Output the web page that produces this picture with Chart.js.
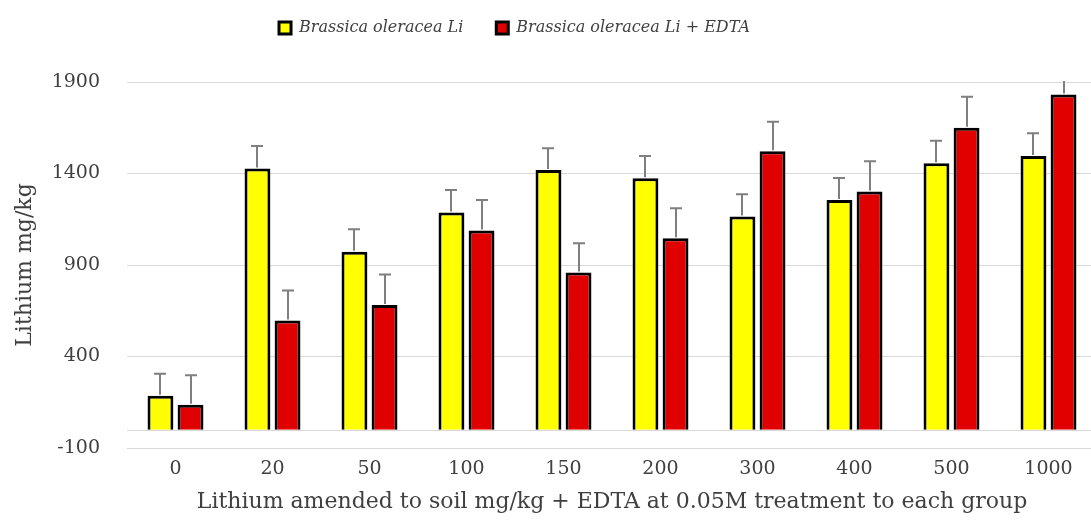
<!DOCTYPE html>
<html>
<head>
<meta charset="utf-8">
<script src="https://cdn.jsdelivr.net/npm/chart.js@4"></script>
<style>
  html, body { margin: 0; padding: 0; background: #ffffff; overflow: hidden; }
  #wrap { width: 1100px; height: 521px; }
</style>
</head>
<body>
<div id="wrap"><canvas id="chart" width="1100" height="521"></canvas></div>
<script>
const categories = ["0", "20", "50", "100", "150", "200", "300", "400", "500", "1000"];
const plainLi = [186, 1428, 973, 1187, 1419, 1374, 1165, 1255, 1456, 1496];
const plainLiError = [120, 122, 122, 123, 119, 122, 121, 121, 123, 124];
const edtaLi = [136, 597, 682, 1088, 859, 1046, 1522, 1301, 1650, 1832];
const edtaLiError = [162, 163, 166, 167, 160, 164, 161, 166, 169, 165];
const yTicks = [-100, 400, 900, 1400, 1900];

const palette = {
  yellow: "#ffff00",
  red: "#e00000",
  edge: "#000000",
  whisker: "#7f7f7f",
  grid: "#d9d9d9",
  text: "#404040"
};

const serif = "'DejaVu Serif', serif";

// error whiskers on top of each bar, plus the zero line the bars stand on
const extrasPlugin = {
  id: "extras",
  beforeInit(chart) {
    const fit = chart.legend.fit;
    chart.legend.fit = function () {
      fit.call(this);
      this.height += 36;
    };
  },
  afterLayout(chart) {
    // legend sits a little left of the canvas centre
    chart.legend.left -= 34;
    chart.legend.right -= 34;
  },
  beforeDatasetsDraw(chart) {
    const { ctx, chartArea, scales } = chart;
    const y0 = Math.round(scales.y.getPixelForValue(0)) + 0.5;
    ctx.save();
    ctx.strokeStyle = palette.grid;
    ctx.lineWidth = 1;
    ctx.beginPath();
    ctx.moveTo(chartArea.left, y0);
    ctx.lineTo(chartArea.right, y0);
    ctx.stroke();
    ctx.restore();
  },
  afterDatasetsDraw(chart) {
    const { ctx, chartArea, scales } = chart;
    const errors = [plainLiError, edtaLiError];
    ctx.save();
    ctx.beginPath();
    ctx.rect(chartArea.left, chartArea.top - 1, chartArea.right - chartArea.left, chartArea.bottom - chartArea.top + 1);
    ctx.clip();
    ctx.strokeStyle = palette.whisker;
    ctx.lineWidth = 2;
    chart.data.datasets.forEach((dataset, di) => {
      chart.getDatasetMeta(di).data.forEach((bar, i) => {
        const top = scales.y.getPixelForValue(dataset.data[i] + errors[di][i]);
        const x = Math.round(bar.x);
        ctx.beginPath();
        ctx.moveTo(x, bar.y - 1);
        ctx.lineTo(x, top);
        ctx.moveTo(x - 6, top);
        ctx.lineTo(x + 6, top);
        ctx.stroke();
      });
    });
    ctx.restore();
  }
};

new Chart(document.querySelector("#chart"), {
  type: "bar",
  data: {
    labels: categories,
    datasets: [
      {
        label: "Brassica oleracea Li",
        data: plainLi,
        backgroundColor: palette.yellow,
        borderColor: palette.edge,
        borderWidth: 3
      },
      {
        label: "Brassica oleracea Li + EDTA",
        data: edtaLi,
        backgroundColor: palette.red,
        borderColor: palette.edge,
        borderWidth: 3
      }
    ]
  },
  options: {
    responsive: false,
    animation: false,
    devicePixelRatio: 1,
    layout: { padding: { top: -13, right: 3, left: 0, bottom: 0 } },
    datasets: {
      bar: { categoryPercentage: 0.62, barPercentage: 0.86 }
    },
    scales: {
      x: {
        grid: { display: false },
        border: { display: false },
        ticks: { color: palette.text, font: { family: serif, size: 19 }, padding: 2 },
        title: {
          display: true,
          text: "Lithium amended to soil mg/kg + EDTA at 0.05M treatment to each group",
          color: palette.text,
          font: { family: serif, size: 22 },
          padding: { top: 2, bottom: 6 }
        },
        afterFit(scale) { scale.height = 73; }
      },
      y: {
        min: -100,
        max: 1900,
        afterBuildTicks(scale) { scale.ticks = yTicks.map((value) => ({ value })); },
        grid: { color: palette.grid, drawTicks: false },
        border: { display: false },
        ticks: {
          color: palette.text,
          font: { family: serif, size: 19 },
          padding: 27,
          callback: (value) => String(value)
        },
        title: {
          display: true,
          text: "Lithium mg/kg",
          color: palette.text,
          font: { family: serif, size: 22 },
          padding: { top: 12, bottom: 4 }
        },
        afterFit(scale) { scale.width = 127; }
      }
    },
    plugins: {
      legend: {
        position: "top",
        labels: {
          color: palette.text,
          font: { family: serif, size: 16, style: "italic" },
          boxWidth: 12,
          boxHeight: 12,
          padding: 33
        }
      },
      tooltip: { enabled: false }
    }
  },
  plugins: [extrasPlugin]
});
</script>
</body>
</html>
